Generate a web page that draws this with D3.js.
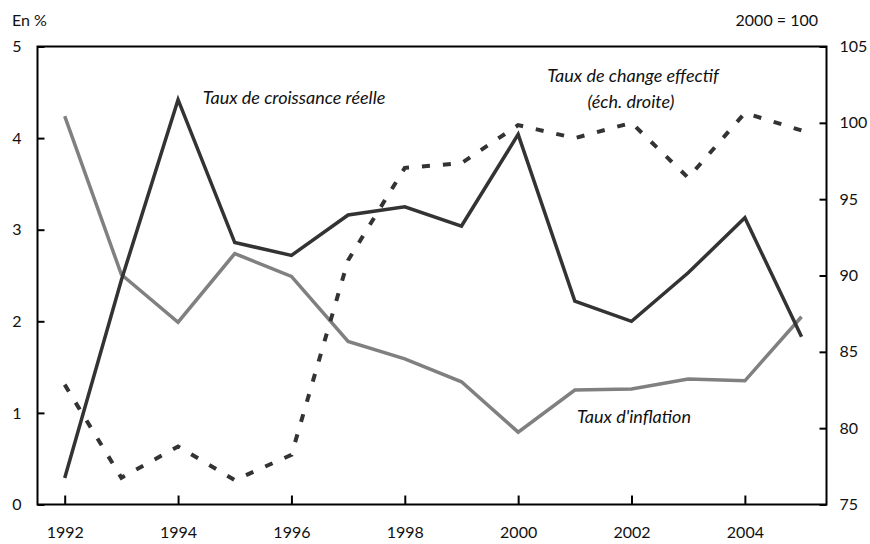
<!DOCTYPE html>
<html>
<head>
<meta charset="utf-8">
<script src="https://cdn.jsdelivr.net/npm/d3@7.9.0/dist/d3.min.js"></script>
<style>
  body { margin: 0; background: #fff; }
  svg text { font-family: 'Lato', 'Open Sans', sans-serif; fill: #111; }
</style>
</head>
<body>
<svg width="870" height="544"></svg>
<script>
const years = [1992, 1993, 1994, 1995, 1996, 1997, 1998, 1999, 2000, 2001, 2002, 2003, 2004, 2005];
const croissance = [0.29, 2.45, 4.42, 2.86, 2.72, 3.16, 3.25, 3.04, 4.04, 2.22, 2.0, 2.53, 3.13, 1.83];
const inflation = [4.24, 2.51, 1.99, 2.74, 2.49, 1.78, 1.59, 1.34, 0.79, 1.25, 1.26, 1.37, 1.35, 2.05];
const change = [82.85, 76.75, 78.8, 76.6, 78.25, 91.0, 97.05, 97.36, 99.85, 99.0, 100.0, 96.4, 100.65, 99.5];
const xTicks = [1992, 1994, 1996, 1998, 2000, 2002, 2004];
const leftTicks = [0, 1, 2, 3, 4, 5];
const rightTicks = [75, 80, 85, 90, 95, 100, 105];

const svg = d3.select('svg');
const mLeft = 37.5, mRight = 826.5, mTop = 46.5, mBottom = 504.5;

let x = d3.scaleLinear().domain([1991.52, 2005.44]).range([mLeft, mRight]);
let yL = d3.scaleLinear().domain([0, 5]).range([mBottom, mTop]);
let yR = d3.scaleLinear().domain([75, 105]).range([mBottom, mTop]);

// frame
svg.append('rect')
  .attr('x', mLeft).attr('y', mTop)
  .attr('width', mRight - mLeft).attr('height', mBottom - mTop)
  .attr('fill', 'none').attr('stroke', '#000').attr('stroke-width', 2);

// axes
let xAxis = svg.append('g')
  .attr('transform', `translate(0,${mBottom})`)
  .call(d3.axisBottom(x).tickValues(xTicks).tickFormat(d3.format('d')).tickSizeInner(-9).tickSizeOuter(0).tickPadding(22));
let yAxisL = svg.append('g')
  .attr('transform', `translate(${mLeft},0)`)
  .call(d3.axisLeft(yL).tickValues(leftTicks).tickFormat(d3.format('d')).tickSizeInner(-7).tickSizeOuter(0).tickPadding(16));
let yAxisR = svg.append('g')
  .attr('transform', `translate(${mRight},0)`)
  .call(d3.axisRight(yR).tickValues(rightTicks).tickFormat(d3.format('d')).tickSizeInner(-7).tickSizeOuter(0).tickPadding(13));

[xAxis, yAxisL, yAxisR].forEach((g) => {
  g.select('.domain').remove();
  g.selectAll('line').attr('stroke', '#000').attr('stroke-width', 2);
  g.selectAll('text').attr('font-size', 16).style('font-family', "'Lato', 'Open Sans', sans-serif").attr('fill', '#111');
});

// series
let line = (scale) => d3.line().x((d, i) => x(years[i])).y((d) => scale(d));

svg.append('path')
  .datum(inflation)
  .attr('d', line(yL))
  .attr('fill', 'none').attr('stroke', '#808080').attr('stroke-width', 3.5).attr('stroke-linejoin', 'miter');

svg.append('path')
  .datum(change)
  .attr('d', line(yR))
  .attr('fill', 'none').attr('stroke', '#333').attr('stroke-width', 4).attr('stroke-dasharray', '8,13');

svg.append('path')
  .datum(croissance)
  .attr('d', line(yL))
  .attr('fill', 'none').attr('stroke', '#333').attr('stroke-width', 3.5).attr('stroke-linejoin', 'miter');

// labels
svg.append('text').attr('x', 12).attr('y', 26).attr('font-size', 16).text('En %');
svg.append('text').attr('x', 818).attr('y', 26).attr('font-size', 16).attr('text-anchor', 'end').text('2000 = 100');

const italic = (tx, ty, t) => svg.append('text')
  .attr('x', tx).attr('y', ty).attr('font-size', 18).attr('font-style', 'italic')
  .attr('text-anchor', 'middle').text(t);
italic(294, 104, 'Taux de croissance réelle');
italic(633, 82, 'Taux de change effectif');
italic(631, 108, '(éch. droite)');
italic(634, 423, "Taux d'inflation");
</script>
</body>
</html>
